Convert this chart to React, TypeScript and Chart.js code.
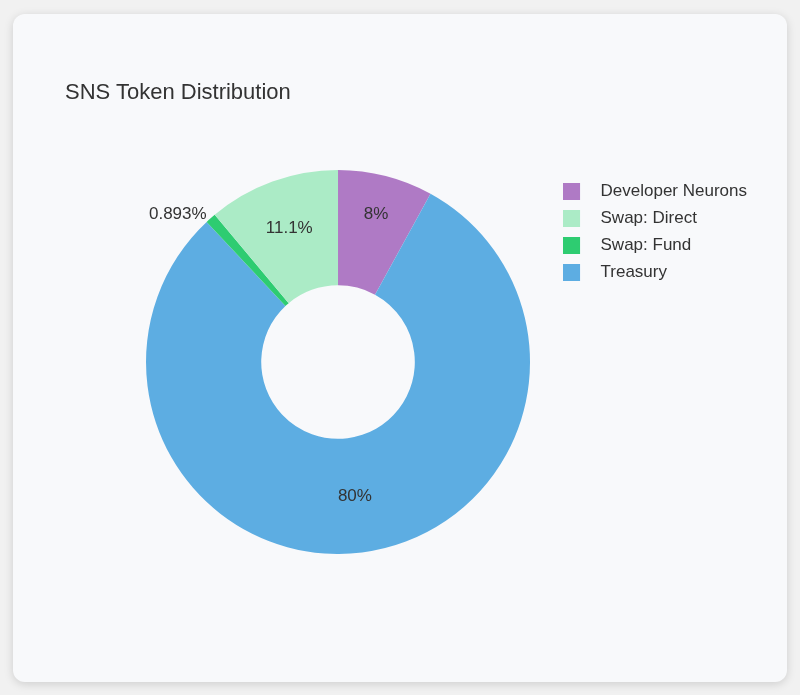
import React, { useEffect, useRef } from 'react';
import { Chart, registerables } from 'chart.js';

Chart.register(...registerables);

// Slices in drawing order (clockwise from 12 o'clock)
const categories = ['Developer Neurons', 'Treasury', 'Swap: Fund', 'Swap: Direct'];
const shares = [8, 80, 0.893, 11.1];
const sliceColors = ['#AF7AC5', '#5DADE2', '#2ECC71', '#ABEBC6'];
// Order shown in the legend
const legendOrder = ['Developer Neurons', 'Swap: Direct', 'Swap: Fund', 'Treasury'];
// Label styling (inside slice or outside)
const labelInside = [true, true, false, true];
const labelRadius = [0.796, 0.703, 0, 0.743];

const FONT = '"Liberation Sans", Arial, Helvetica, sans-serif';

function swatch(color: string): HTMLCanvasElement {
  const c = document.createElement('canvas');
  c.width = 29;
  c.height = 17;
  const g = c.getContext('2d')!;
  g.fillStyle = color;
  g.fillRect(0, 0, 17, 17);
  return c;
}

const percentLabels = {
  id: 'percentLabels',
  afterDatasetsDraw(chart: any) {
    const meta = chart.getDatasetMeta(0);
    const ctx = chart.ctx;
    ctx.save();
    ctx.font = `17px ${FONT}`;
    ctx.fillStyle = '#333';
    ctx.textBaseline = 'middle';
    meta.data.forEach((arc: any, i: number) => {
      const { x, y, startAngle, endAngle, outerRadius } = arc.getProps(
        ['x', 'y', 'startAngle', 'endAngle', 'outerRadius'],
        true
      );
      const mid = (startAngle + endAngle) / 2;
      const text = `${shares[i]}%`;
      if (labelInside[i]) {
        const r = outerRadius * labelRadius[i];
        ctx.textAlign = 'center';
        ctx.fillText(text, x + Math.cos(mid) * r, y + Math.sin(mid) * r);
      } else {
        const r = outerRadius + 6;
        ctx.textAlign = Math.cos(mid) < 0 ? 'right' : 'left';
        ctx.fillText(text, x + Math.cos(mid) * r, y + Math.sin(mid) * r);
      }
    });
    ctx.restore();
  },
};

export default function App() {
  const ref = useRef<HTMLCanvasElement>(null);

  useEffect(() => {
    if (!ref.current) return;
    const chart = new Chart(ref.current, {
      type: 'doughnut',
      data: {
        labels: categories,
        datasets: [
          {
            data: shares,
            backgroundColor: sliceColors,
            borderWidth: 0,
          },
        ],
      },
      options: {
        animation: false,
        responsive: false,
        events: [],
        cutout: '40%',
        plugins: {
          tooltip: { enabled: false },
          legend: {
            position: 'right',
            align: 'start',
            title: { display: true, text: '', padding: 0, font: { size: 1, lineHeight: 2.5 } },
            labels: {
              usePointStyle: true,
              pointStyleWidth: 29,
              padding: 10,
              color: '#333',
              font: { size: 17, family: FONT },
              generateLabels(c: any) {
                const base = (Chart as any).overrides.doughnut.plugins.legend.labels.generateLabels(c);
                return base.map((it: any) => ({ ...it, pointStyle: swatch(sliceColors[it.index]) }));
              },
              sort: (a: any, b: any) => legendOrder.indexOf(a.text) - legendOrder.indexOf(b.text),
            },
          },
        },
      } as any,
      plugins: [percentLabels],
    });
    return () => chart.destroy();
  }, []);

  return (
    <div>
      <div style={{ position: 'fixed', inset: 0, background: '#f1f1f1' }} />
      <div
        style={{
          position: 'absolute',
          left: 13,
          top: 14,
          width: 774,
          height: 668,
          background: '#f8f9fb',
          borderRadius: 12,
          boxShadow: '0 2px 10px rgba(0,0,0,0.15)',
        }}
      >
        <div
          style={{
            position: 'absolute',
            left: 52,
            top: 67,
            font: `22px ${FONT}`,
            lineHeight: '22px',
            color: '#333',
            whiteSpace: 'nowrap',
          }}
        >
          SNS Token Distribution
        </div>
        <canvas
          ref={ref}
          width={634}
          height={384}
          style={{ position: 'absolute', left: 110, top: 156 }}
        />
      </div>
    </div>
  );
}
